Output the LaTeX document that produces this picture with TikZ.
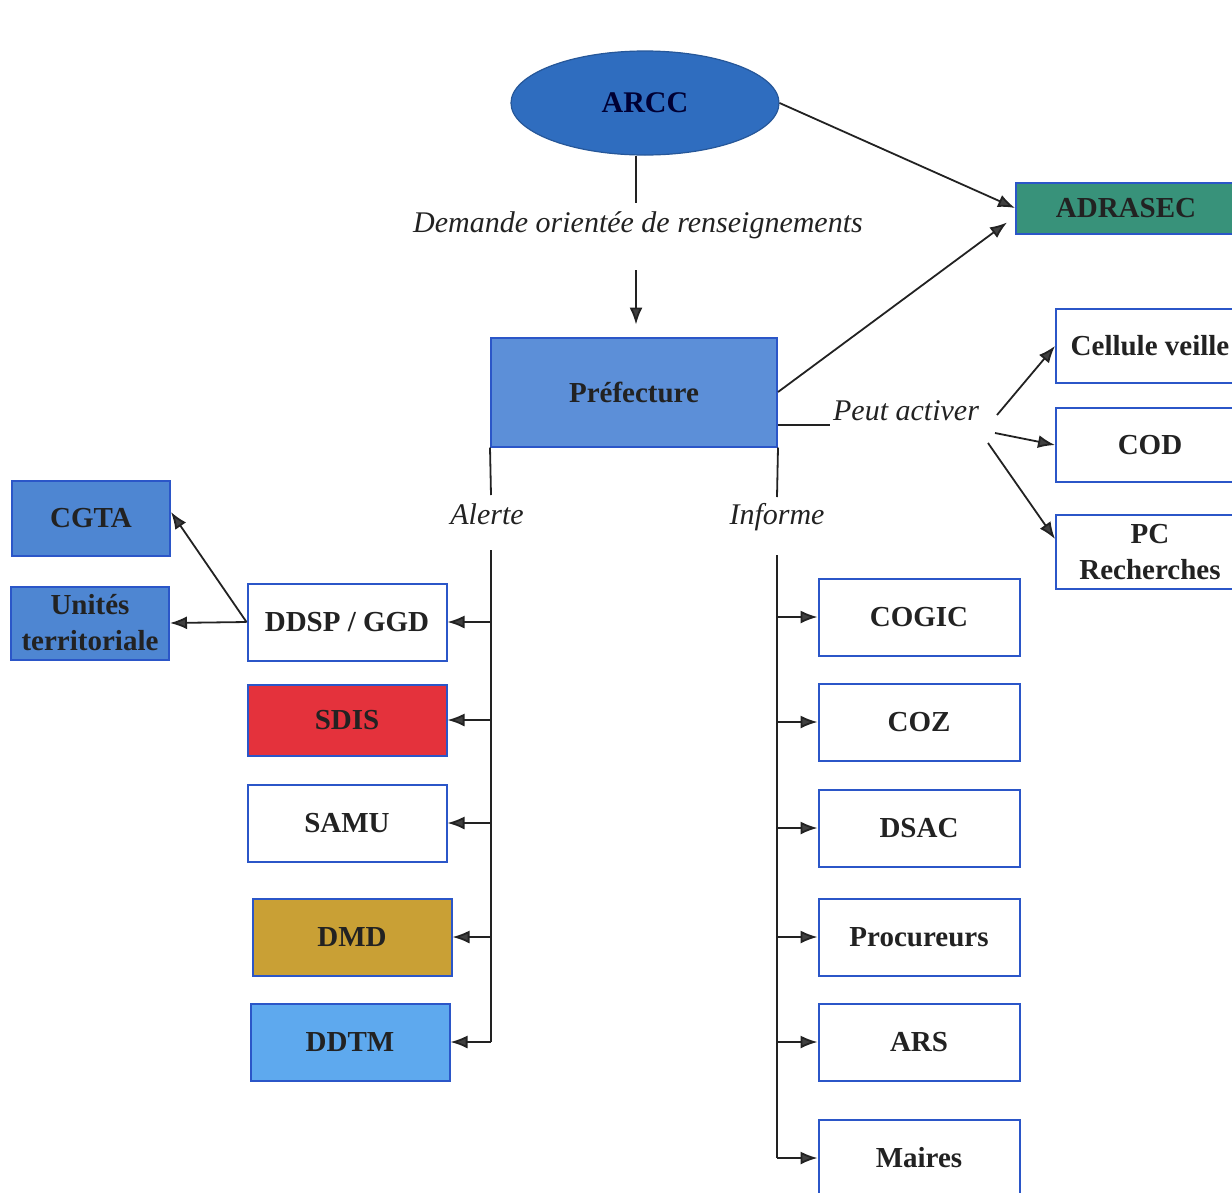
\documentclass[tikz,border=0pt]{standalone}
\usepackage{fontspec}
\setmainfont{Liberation Serif}
\usetikzlibrary{arrows.meta,shapes.geometric}

\definecolor{boxline}{HTML}{2B56C8}
\definecolor{arccblue}{HTML}{2F6DBF}
\definecolor{prefblue}{HTML}{5C8FD8}
\definecolor{adragreen}{HTML}{38927A}
\definecolor{cgtablue}{HTML}{4E86D2}
\definecolor{sdisred}{HTML}{E4323C}
\definecolor{dmdgold}{HTML}{C9A035}
\definecolor{ddtmblue}{HTML}{5EA9EE}
\definecolor{ink}{HTML}{222222}

\tikzset{
  box/.style={draw=boxline, line width=2pt, minimum width=199pt, minimum height=77pt,
    inner sep=0pt, align=center, text=ink, font=\fontsize{29}{36}\selectfont\bfseries},
  etiq/.style={text=ink, font=\fontsize{30}{34}\selectfont\itshape},
  lien/.style={draw=ink, line width=1.8pt},
  fleche/.style={lien, -{Latex[length=17pt,width=13pt,fill=black!75]}}
}

\begin{document}
\begin{tikzpicture}[x=1pt,y=-1pt]

\useasboundingbox (0,0) rectangle (1232,1192);
\clip (0,0) rectangle (1232,1192);

\coordinate (d1) at (636,203);
\coordinate (d2) at (636,270);
\coordinate (pa) at (830,425);
\coordinate (pa1) at (997,415);
\coordinate (pa2) at (995,433);
\coordinate (pa3) at (988,443);
\coordinate (al0) at (491,495);
\coordinate (al1) at (491,550);
\coordinate (in0) at (777,497);
\coordinate (in1) at (777,555);

\node [ellipse, draw=arccblue!80!black, line width=1.2pt, fill=arccblue, minimum width=268pt,
  minimum height=104pt, inner sep=0pt, text=blue!20!black, font=\fontsize{30}{34}\selectfont\bfseries]
  (arcc) at (645,103) {ARCC};
\node [etiq] (demande) at (638,225) {Demande orientée de renseignements};
\node [box, fill=prefblue, minimum width=286pt, minimum height=109pt] (prefecture) at (634,392) {Préfecture};
\node [box, fill=adragreen, minimum width=220pt, minimum height=51pt] (adrasec) at (1126,208) {ADRASEC};
\node [etiq] (activer) at (906,411) {Peut activer};
\node [etiq] (alerte) at (487,514) {Alerte};
\node [etiq] (informe) at (777,517) {Informe};

\node [box, minimum width=188pt, minimum height=74pt] (cellule) at (1150,346) {Cellule veille};
\node [box, minimum width=188pt, minimum height=74pt] (cod) at (1150,445) {COD};
\node [box, minimum width=188pt, minimum height=74pt] (pc) at (1150,552) {PC\\Recherches};

\node [box, fill=cgtablue, minimum width=158pt, minimum height=75pt] (cgta) at (91,518) {CGTA};
\node [box, fill=cgtablue, minimum width=158pt, minimum height=73pt] (unites) at (90,623) {Unités\\territoriale};

\node [box] (ddsp) at (347,622) {DDSP / GGD};
\node [box, fill=sdisred, minimum height=71pt] (sdis) at (347,720) {SDIS};
\node [box] (samu) at (347,823) {SAMU};
\node [box, fill=dmdgold] (dmd) at (352,937) {DMD};
\node [box, fill=ddtmblue] (ddtm) at (350,1042) {DDTM};

\node [box, minimum width=201pt] (cogic) at (919,617) {COGIC};
\node [box, minimum width=201pt] (coz) at (919,722) {COZ};
\node [box, minimum width=201pt] (dsac) at (919,828) {DSAC};
\node [box, minimum width=201pt] (procureurs) at (919,937) {Procureurs};
\node [box, minimum width=201pt] (ars) at (919,1042) {ARS};
\node [box, minimum width=201pt] (maires) at (919,1158) {Maires};

\draw [lien] (d1 |- arcc.south) -- (d1);
\draw [fleche, shorten >=12pt] (d2) -- (d2 |- prefecture.north);
\draw [fleche] (arcc.east) -- (adrasec.west);
\draw [fleche] (prefecture.east) -- ([shift={(-8,-12)}]adrasec.south west);

\draw [lien] (pa -| prefecture.east) -- (pa);
\draw [fleche] (pa1) -- (cellule.west);
\draw [fleche] (pa2) -- (cod.west);
\draw [fleche] (pa3) -- ([shift={(0,25)}]pc.north west);

\draw [lien] (prefecture.south west) -- (al0);
\draw [lien] (al1) -- (al1 |- ddtm);
\foreach \n in {ddsp,sdis,samu,dmd,ddtm}
  \draw [fleche] (al1 |- \n) -- (\n);
\draw [fleche] (ddsp.west) -- ([shift={(0,-6)}]cgta.east);
\draw [fleche] (ddsp.west) -- (unites.east);

\draw [lien] (prefecture.south east) -- (in0);
\draw [lien] (in1) -- (in1 |- maires);
\foreach \n in {cogic,coz,dsac,procureurs,ars,maires}
  \draw [fleche] (in1 |- \n) -- (\n);
\end{tikzpicture}
\end{document}
